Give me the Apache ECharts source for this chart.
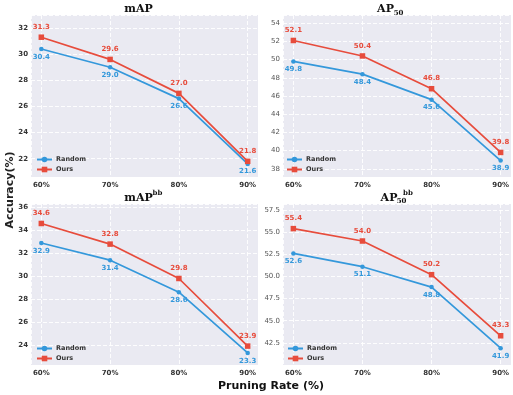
<!DOCTYPE html>
<html><head><meta charset="utf-8">
<script src="https://cdn.jsdelivr.net/npm/echarts@6/dist/echarts.min.js"></script>
<style>html,body{margin:0;padding:0;background:#fff}#c{width:513px;height:395px}</style>
</head><body><div id="c"></div>
<script>
// ---- data ----
const categories = ['60%', '70%', '80%', '90%'];
const mapRandom = [30.4, 29.0, 26.6, 21.6];
const mapOurs = [31.3, 29.6, 27.0, 21.8];
const ap50Random = [49.8, 48.4, 45.6, 38.9];
const ap50Ours = [52.1, 50.4, 46.8, 39.8];
const mapBbRandom = [32.9, 31.4, 28.6, 23.3];
const mapBbOurs = [34.6, 32.8, 29.8, 23.9];
const ap50BbRandom = [52.6, 51.1, 48.8, 41.9];
const ap50BbOurs = [55.4, 54.0, 50.2, 43.3];
const yTicksMap = [22, 24, 26, 28, 30, 32];
const yTicksAp50 = [38, 40, 42, 44, 46, 48, 50, 52, 54];
const yTicksMapBb = [24, 26, 28, 30, 32, 34, 36];
const yTicksAp50Bb = [42.5, 45.0, 47.5, 50.0, 52.5, 55.0, 57.5];

const BLUE = '#3498db', RED = '#e74c3c', BG = '#eaeaf2';
const FONT = '"DejaVu Sans", sans-serif';

const panels = [
  {rnd: mapRandom, ours: mapOurs, ticks: yTicksMap, min: 20.6, max: 33.0, split: 5, bold: true, dec: 0,
   grid: {left: 31, top: 15, width: 227, height: 162}, legend: {left: 36, top: 156}},
  {rnd: ap50Random, ours: ap50Ours, ticks: yTicksAp50, min: 37.1, max: 54.9, split: 9, bold: false, dec: 0,
   grid: {left: 283, top: 15, width: 228, height: 162}, legend: {left: 286, top: 156}},
  {rnd: mapBbRandom, ours: mapBbOurs, ticks: yTicksMapBb, min: 22.25, max: 36.3, split: 7, bold: true, dec: 0,
   grid: {left: 31, top: 204, width: 227, height: 161}, legend: {left: 36, top: 345}},
  {rnd: ap50BbRandom, ours: ap50BbOurs, ticks: yTicksAp50Bb, min: 40, max: 58.18, interval: 2.5, bold: false, dec: 1,
   grid: {left: 283, top: 204, width: 228, height: 161}, legend: {left: 287, top: 345}}
];

const grid = [], xAxis = [], yAxis = [], series = [], legend = [];
const splitLine = {show: true, lineStyle: {color: '#ffffff', type: [4, 2], width: 0.9}};

panels.forEach((p, i) => {
  grid.push(Object.assign({show: true, backgroundColor: BG, borderWidth: 0}, p.grid));
  xAxis.push({
    type: 'value', gridIndex: i, min: -0.15, max: 3.15, splitNumber: 3,
    axisLine: {show: false}, axisTick: {show: false}, splitLine,
    axisLabel: {
      showMinLabel: false, showMaxLabel: false, margin: 5,
      fontFamily: FONT, fontSize: 7, fontWeight: 'bold', color: '#333',
      formatter: v => (Number.isInteger(v) && categories[v] !== undefined) ? categories[v] : ''
    }
  });
  const ya = {
    type: 'value', gridIndex: i, min: p.min, max: p.max,
    axisLine: {show: false}, axisTick: {show: false}, splitLine,
    axisLabel: {
      showMinLabel: false, showMaxLabel: false, margin: 3,
      fontFamily: FONT, fontSize: 7, fontWeight: p.bold ? 'bold' : 'normal', color: p.bold ? '#333' : '#555',
      formatter: v => p.ticks.some(t => Math.abs(t - v) < 1e-6) ? v.toFixed(p.dec) : ''
    }
  };
  if (p.interval) ya.interval = p.interval; else ya.splitNumber = p.split;
  yAxis.push(ya);
  const mk = (name, vals, color, symbol, size, pos, dist) => ({
    name, type: 'line', xAxisIndex: i, yAxisIndex: i,
    data: vals.map((v, k) => [k, v]),
    symbol, symbolSize: size, showSymbol: true,
    lineStyle: {color, width: 1.7}, itemStyle: {color},
    label: {show: true, position: pos, distance: dist, color, fontFamily: FONT, fontSize: 7, fontWeight: 'bold',
            formatter: q => q.value[1].toFixed(1)},
    emphasis: {disabled: true}, animation: false, z: name === 'Ours' ? 3 : 2
  });
  series.push(mk('Random', p.rnd, BLUE, 'circle', 4.5, 'bottom', 2));
  series.push(mk('Ours', p.ours, RED, 'rect', 5.5, 'top', 4));
  legend.push({
    orient: 'vertical', left: p.legend.left, top: p.legend.top, padding: 0,
    data: ['Random', 'Ours'], itemWidth: 15, itemHeight: 7, itemGap: 3, selectedMode: false,
    textStyle: {fontFamily: FONT, fontSize: 6.5, fontWeight: 'bold', color: '#333', padding: [0, 0, 0, -1]}
  });
});

const TF = 'bold 11px "DejaVu Serif", serif';
const SF = 'bold 7px "DejaVu Serif", serif';
const txt = (text, x, y, font, extra) => Object.assign({
  type: 'text', x, y, silent: true,
  style: {text, font, fill: '#111', align: 'center', verticalAlign: 'middle'}
}, extra || {});

const graphic = [
  txt('mAP', 138.5, 9.5, TF),
  txt('AP', 385.5, 9.5, TF), txt('50', 398.5, 12.8, SF),
  txt('mAP', 138.5, 198, TF), txt('bb', 157.5, 193, SF),
  txt('AP', 389, 198, TF), txt('50', 401.5, 201, SF), txt('bb', 408, 193, SF),
  {type: 'text', x: 10, y: 190, rotation: Math.PI / 2, silent: true,
   style: {text: 'Accuracy(%)', font: 'bold 11px "DejaVu Sans", sans-serif', fill: '#222', align: 'center', verticalAlign: 'middle'}},
  txt('Pruning Rate (%)', 271, 386, 'bold 11px "DejaVu Sans", sans-serif')
];

const chart = echarts.init(document.getElementById('c'), null, {renderer: 'canvas'});
chart.setOption({animation: false, grid, xAxis, yAxis, series, legend, graphic});
</script>
</body></html>
